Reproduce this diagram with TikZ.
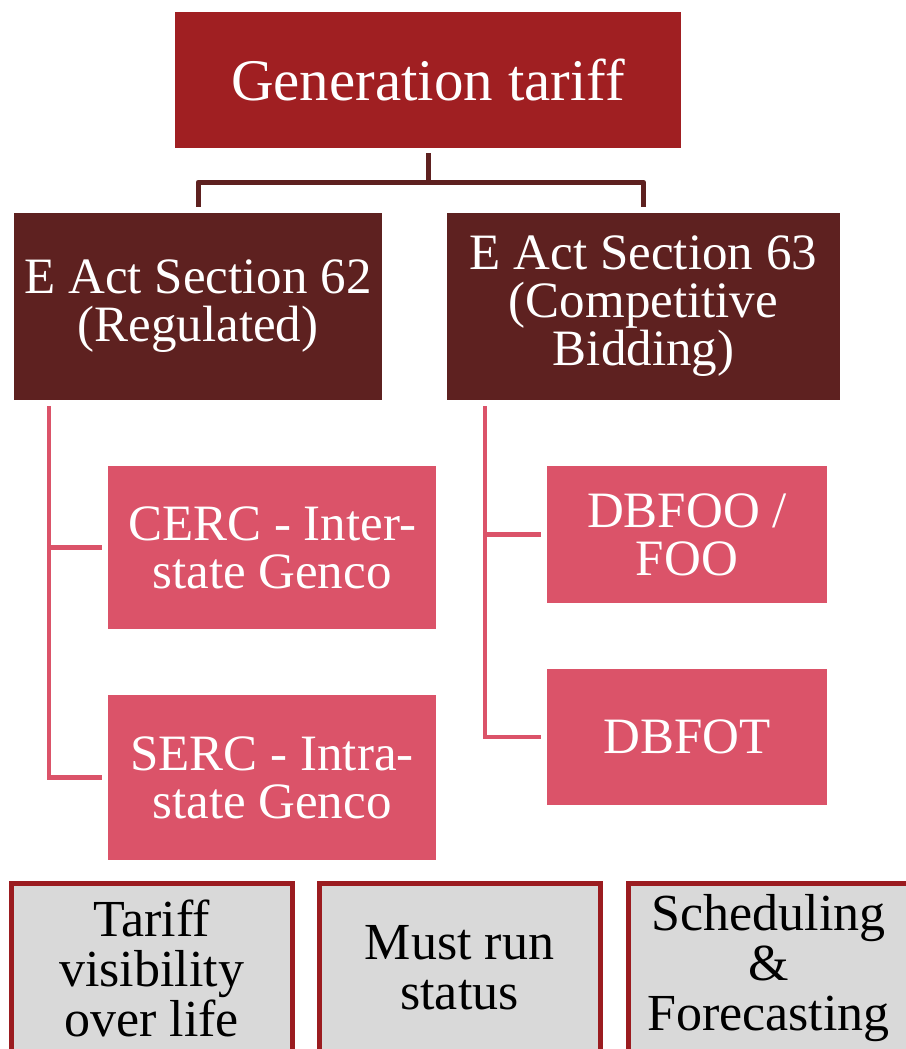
\documentclass[tikz,border=0pt]{standalone}
\usepackage{fontspec}
\setmainfont{Liberation Serif}
\usetikzlibrary{calc}
\definecolor{titlered}{HTML}{A01F22}
\definecolor{darkbrown}{HTML}{5E2120}
\definecolor{rosepink}{HTML}{DB5369}
\definecolor{borderred}{HTML}{9B1C20}
\definecolor{lightgray}{HTML}{D9D9D9}
\tikzset{
  box/.style={rectangle, inner sep=0pt, align=center, text=white},
  titlebox/.style={box, fill=titlered, font=\fontsize{59}{62}\selectfont},
  secbox/.style={box, fill=darkbrown, font=\fontsize{51}{48}\selectfont},
  subbox/.style={box, fill=rosepink, font=\fontsize{51}{48}\selectfont},
  notebox/.style={rectangle, inner sep=0pt, align=center, text=black, fill=lightgray, draw=borderred, line width=5pt, font=\fontsize{52}{50}\selectfont},
  darkline/.style={draw=darkbrown, line width=5pt},
  pinkline/.style={draw=rosepink, line width=4.5pt}
}
\begin{document}
\begin{tikzpicture}[x=1pt,y=-1pt]
\useasboundingbox (0,0) rectangle (905,1049);
\node[titlebox, minimum width=506pt, minimum height=136pt] (top) at (428,80) {Generation tariff};
\node[secbox, minimum width=368pt, minimum height=187pt] (s62) at (198,306.5) {E Act Section 62\\(Regulated)};
\node[secbox, minimum width=393pt, minimum height=187pt] (s63) at (643.5,306.5) {E Act Section 63\\(Competitive\\Bidding)};
\node[subbox, minimum width=328pt, minimum height=163pt] (cerc) at (272,547.5) {CERC - Inter-\\state Genco};
\node[subbox, minimum width=328pt, minimum height=165pt] (serc) at (272,777.5) {SERC - Intra-\\state Genco};
\node[subbox, minimum width=280pt, minimum height=137pt] (dbfoo) at (687,534.5) {DBFOO /\\FOO};
\node[subbox, minimum width=280pt, minimum height=136pt] (dbfot) at (687,737) {DBFOT};
\node[notebox, minimum width=281pt, minimum height=170pt] (n1) at (151.5,968) {Tariff\\visibility\\over life};
\node[notebox, minimum width=281pt, minimum height=170pt] (n2) at (459.5,968) {Must run\\status};
\node[notebox, minimum width=281pt, minimum height=170pt] (n3) at (768.5,968) {Scheduling\\\&\\Forecasting};
\coordinate (hub) at ($(top.south)+(0,34)$);
\draw[darkline, line join=round] ($(top.south)+(0,5)$) -- (hub) -| ($(s62.north)+(0,-6)$);
\draw[darkline, line join=round] (hub) -| ($(s63.north)+(0,-6)$);
\draw[pinkline] ($(s62.south west)+(35,6)$) |- ($(cerc.west)+(-6,0)$);
\draw[pinkline] ($(s62.south west)+(35,6)$) |- ($(serc.west)+(-6,0)$);
\draw[pinkline] ($(s63.south west)+(38,6)$) |- ($(dbfoo.west)+(-6,0)$);
\draw[pinkline] ($(s63.south west)+(38,6)$) |- ($(dbfot.west)+(-6,0)$);
\end{tikzpicture}
\end{document}
